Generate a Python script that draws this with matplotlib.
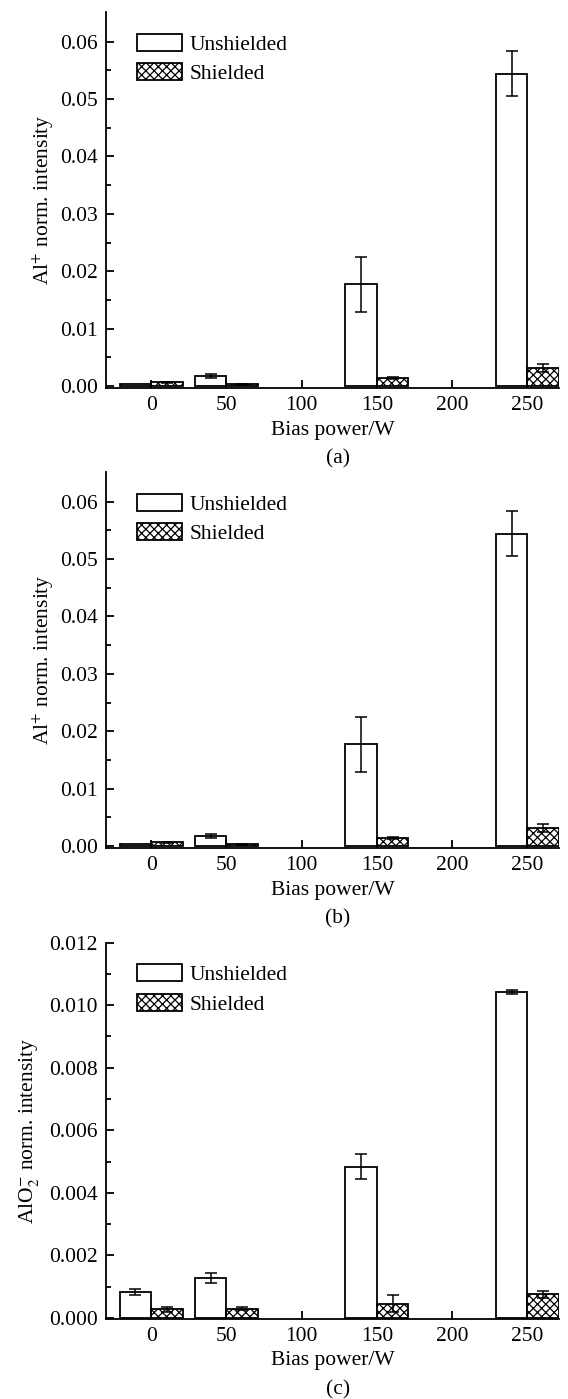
import numpy as np
import matplotlib
matplotlib.use('Agg')
import matplotlib.pyplot as plt

plt.rcParams['font.family'] = ['Liberation Serif', 'DejaVu Serif']
plt.rcParams['mathtext.fontset'] = 'stix'
plt.rcParams['hatch.linewidth'] = 0.9
plt.rcParams['font.size'] = 15.5

power = np.array([0, 50, 150, 250])
xticks = [0, 50, 100, 150, 200, 250]

# Al+ (panels a and b show the same data)
al_unsh = [0.0003, 0.0017, 0.0177, 0.0544]
al_unsh_err = [0.0, 0.00035, 0.0048, 0.0039]
al_sh = [0.0006, 0.0003, 0.0014, 0.0032]
al_sh_err = [0.0001, 0.0001, 0.0002, 0.0007]

# AlO2-
alo_unsh = [0.00083, 0.00128, 0.00483, 0.01042]
alo_unsh_err = [0.0001, 0.00015, 0.0004, 0.00006]
alo_sh = [0.00027, 0.0003, 0.00046, 0.00075]
alo_sh_err = [0.00007, 0.00005, 0.00027, 0.0001]

w = 21

fig = plt.figure(figsize=(5.68, 13.99), dpi=100)

panels = [
    (0.7227, al_unsh, al_unsh_err, al_sh, al_sh_err, 'Al$^{+}$ norm. intensity', 2.5,
     (-0.00035, 0.0652), np.arange(0, 0.061, 0.01), '%.2f', '(a)'),
    (0.3939, al_unsh, al_unsh_err, al_sh, al_sh_err, 'Al$^{+}$ norm. intensity', 2.5,
     (-0.00035, 0.0652), np.arange(0, 0.061, 0.01), '%.2f', '(b)'),
    (0.0575, alo_unsh, alo_unsh_err, alo_sh, alo_sh_err, 'AlO$_2^{-}$ norm. intensity', 6,
     (-0.00002, 0.012), np.arange(0, 0.0121, 0.002), '%.3f', '(c)'),
]


def draw_err(ax, x, y, e):
    x, y, e = np.asarray(x), np.asarray(y), np.asarray(e)
    m = e > 0
    ax.errorbar(x[m], y[m], yerr=e[m], fmt='none', ecolor='black',
                elinewidth=1.1, capsize=4.5, capthick=1.1)


for bottom, u, ue, s, se, ylab, lpad, ylim, yt, fmt, tag in panels:
    ax = fig.add_axes([0.1866, bottom, 0.7975, 0.2688])
    ax.bar(power - w / 2, u, w, color='white', edgecolor='black', linewidth=1.3,
           label='Unshielded')
    ax.bar(power + w / 2, s, w, color='white', edgecolor='black', linewidth=1.3,
           hatch='xxxx', label='Shielded')
    draw_err(ax, power - w / 2, u, ue)
    draw_err(ax, power + w / 2, s, se)

    ax.set_xlim(-30, 271)
    ax.set_ylim(*ylim)
    ax.set_xticks(xticks)
    ax.set_yticks(yt)
    ax.set_yticklabels([fmt % v for v in yt])
    ax.set_yticks((yt[:-1] + yt[1:]) / 2, minor=True)
    ax.tick_params(direction='in', width=1.3, length=6, pad=6)
    ax.tick_params(axis='y', which='minor', direction='in', width=1.3, length=3.5)
    ax.spines['top'].set_visible(False)
    ax.spines['right'].set_visible(False)
    ax.spines['left'].set_linewidth(1.3)
    ax.spines['bottom'].set_linewidth(1.3)

    ax.set_xlabel('Bias power/W', labelpad=4)
    ax.set_ylabel(ylab, labelpad=lpad)
    ax.legend(loc='upper left', frameon=False,
              handlelength=2.1, handleheight=0.85, handletextpad=0.35,
              labelspacing=0.4, borderaxespad=0.0,
              bbox_to_anchor=(0.05, 0.965))

    fig.text(338 / 568, bottom - 71 / 1399, tag, ha='center', va='center')

fig.savefig('out.png', dpi=100)
